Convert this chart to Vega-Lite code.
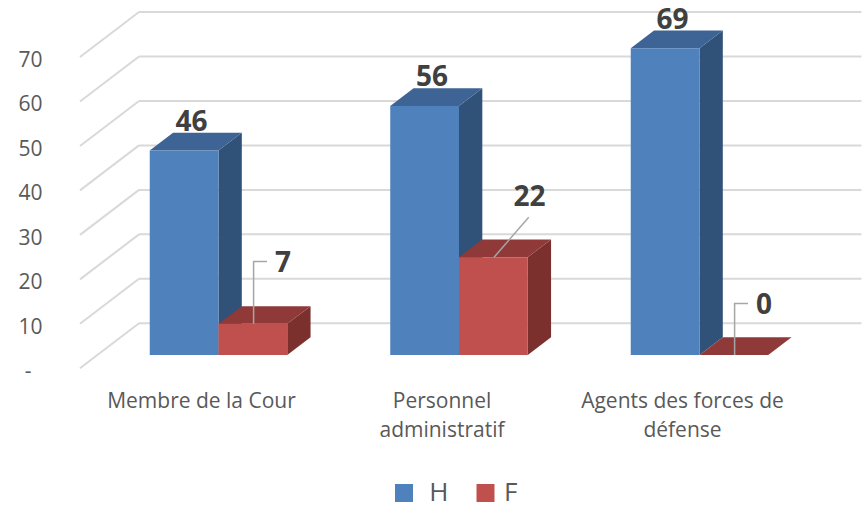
{
"$schema":"https://vega.github.io/schema/vega-lite/v6.json",
"width":865,"height":506,"padding":0,"autosize":{"type":"none"},"background":"white",
"config":{"view":{"stroke":null},"font":"Open Sans"},
"data":{"values":[
{"category":"Membre de la Cour","serie":"H","value":46},
{"category":"Membre de la Cour","serie":"F","value":7},
{"category":"Personnel administratif","serie":"H","value":56},
{"category":"Personnel administratif","serie":"F","value":22},
{"category":"Agents des forces de défense","serie":"H","value":69},
{"category":"Agents des forces de défense","serie":"F","value":0}
]},
"transform":[
{"calculate":"indexof(['Membre de la Cour','Personnel administratif','Agents des forces de défense'],datum.category)","as":"g"},
{"calculate":"datum.serie=='H'?0:1","as":"s"},
{"calculate":"datum.g+(datum.s-1)*0.2859","as":"x0"},
{"calculate":"datum.g+datum.s*0.2859","as":"x1"},
{"calculate":"(datum.x0+datum.x1)/2","as":"xc"},
{"calculate":"datum.category+datum.serie","as":"id"}
],
"layer":[
{"data":{"values":[{"tick":0},{"tick":10},{"tick":20},{"tick":30},{"tick":40},{"tick":50},{"tick":60},{"tick":70}]},
 "transform":[{"calculate":"datum.tick-2.99","as":"yf"},{"calculate":"datum.tick+7.13","as":"yb"}],
 "mark":{"type":"rule","color":"#d9d9d9","strokeWidth":2},
 "encoding":{
  "x":{"datum":-0.5759,"type":"quantitative","scale":{"domain":[-0.90852,2.68815],"nice":false,"zero":false},"axis":null},
  "x2":{"datum":-0.3306},
  "y":{"field":"yf","type":"quantitative","scale":{"domain":[-33.96,79.83],"nice":false,"zero":false},
   "axis":{"title":null,"orient":"left","offset":-42,"domain":false,"ticks":false,"grid":false,"values":[0,10,20,30,40,50,60,70],"labelExpr":"datum.value==0?'-\u00a0\u00a0\u200b':datum.label","labelOffset":16.5,"labelPadding":0,"labelFontSize":21,"labelColor":"#595959","labelFont":"Open Sans","labelOverlap":false}},
  "y2":{"field":"yb"}
 }},
{"data":{"values":[{"tick":0},{"tick":10},{"tick":20},{"tick":30},{"tick":40},{"tick":50},{"tick":60},{"tick":70}]},
 "transform":[{"calculate":"datum.tick+7.13","as":"yb"}],
 "mark":{"type":"rule","color":"#d9d9d9","strokeWidth":2},
 "encoding":{
  "x":{"datum":-0.3306,"type":"quantitative","scale":{"domain":[-0.90852,2.68815],"nice":false,"zero":false},"axis":null},
  "x2":{"datum":2.6736},
  "y":{"field":"yb","type":"quantitative","scale":{"domain":[-33.96,79.83],"nice":false,"zero":false}}
 }},
{"transform":[{"calculate":"[0,1]","as":"k"},{"flatten":["k"]},
  {"calculate":"datum.x1+datum.k*0.0969","as":"xs"},{"calculate":"datum.value+datum.k*3.98","as":"yt"},{"calculate":"datum.k*3.98","as":"yo"}],
 "mark":{"type":"area"},
 "encoding":{
  "x":{"field":"xs","type":"quantitative","scale":{"domain":[-0.90852,2.68815],"nice":false,"zero":false},"axis":null},
  "y":{"field":"yt","type":"quantitative","scale":{"domain":[-33.96,79.83],"nice":false,"zero":false}},
  "y2":{"field":"yo"},
  "detail":{"field":"id"},
  "fill":{"condition":{"test":"datum.serie=='H'","value":"#305178"},"value":"#7B302E"}
 }},
{"transform":[{"calculate":"[0,1]","as":"k"},{"flatten":["k"]},
  {"calculate":"datum.x0+datum.k*0.0969","as":"xa"},{"calculate":"datum.x1+datum.k*0.0969","as":"xb"},{"calculate":"datum.value+datum.k*3.98","as":"yt"}],
 "mark":{"type":"area","orient":"horizontal"},
 "encoding":{
  "y":{"field":"yt","type":"quantitative","scale":{"domain":[-33.96,79.83],"nice":false,"zero":false}},
  "x":{"field":"xa","type":"quantitative","scale":{"domain":[-0.90852,2.68815],"nice":false,"zero":false},"axis":null},
  "x2":{"field":"xb"},
  "detail":{"field":"id"},
  "fill":{"condition":{"test":"datum.serie=='H'","value":"#3D6494"},"value":"#8F3A38"}
 }},
{"mark":{"type":"rect"},
 "encoding":{
  "x":{"field":"x0","type":"quantitative","scale":{"domain":[-0.90852,2.68815],"nice":false,"zero":false},"axis":null},
  "x2":{"field":"x1"},
  "y":{"field":"value","type":"quantitative","scale":{"domain":[-33.96,79.83],"nice":false,"zero":false}},
  "y2":{"datum":0},
  "color":{"field":"serie","type":"nominal","scale":{"domain":["H","F"],"range":["#4F81BD","#C0504D"]},
   "legend":{"title":null,"orient":"none","legendX":391,"legendY":480,"direction":"horizontal","symbolType":"square","symbolSize":324,"symbolStrokeWidth":0,"symbolOpacity":1,"labelFontSize":26,"labelColor":"#595959","labelFont":"Open Sans","labelOffset":5.5,"columnPadding":23.5,"padding":0,"labelExpr":"datum.label=='H'?'\u200b\u00a0H':datum.label"}}
 }},
{"transform":[{"filter":"datum.serie=='F'"},{"calculate":"[0,1,2]","as":"k"},{"flatten":["k"]},
  {"calculate":"datum.value==22?9:(datum.value==7?14:11.6)","as":"up"},
  {"calculate":"datum.xc+0.003+(datum.value==22?(datum.k>=1?0.144:0):(datum.k==2?0.0555:0))","as":"lu"},
  {"calculate":"datum.value+(datum.k>=1?datum.up:0)","as":"lv"}],
 "mark":{"type":"line","color":"#a6a6a6","strokeWidth":1.5},
 "encoding":{
  "x":{"field":"lu","type":"quantitative","scale":{"domain":[-0.90852,2.68815],"nice":false,"zero":false},"axis":null},
  "y":{"field":"lv","type":"quantitative","scale":{"domain":[-33.96,79.83],"nice":false,"zero":false}},
  "detail":{"field":"id"},
  "order":{"field":"k"}
 }},
{"transform":[
  {"calculate":"datum.xc+(datum.serie=='H'?0.031:(datum.value==22?0.15:0.125))","as":"lx"},
  {"calculate":"datum.value+(datum.serie=='H'?6.2:(datum.value==0?10.95:13.35))","as":"ly"}],
 "mark":{"type":"text","fontSize":28,"fontWeight":"bold","font":"Open Sans","color":"#404040","align":"center","baseline":"middle"},
 "encoding":{
  "x":{"field":"lx","type":"quantitative","scale":{"domain":[-0.90852,2.68815],"nice":false,"zero":false},"axis":null},
  "y":{"field":"ly","type":"quantitative","scale":{"domain":[-33.96,79.83],"nice":false,"zero":false}},
  "text":{"field":"value","type":"quantitative"}
 }},
{"transform":[{"filter":"datum.serie=='F'"},
  {"calculate":"datum.g-0.0707","as":"lx"},
  {"calculate":"-8.0","as":"ly"},
  {"calculate":"datum.category=='Personnel administratif'?'Personnel|administratif':(datum.category=='Agents des forces de défense'?'Agents des forces de|défense':datum.category)","as":"lab"}],
 "mark":{"type":"text","fontSize":21,"font":"Open Sans","color":"#595959","align":"center","baseline":"top","lineBreak":"|","lineHeight":29},
 "encoding":{
  "x":{"field":"lx","type":"quantitative","scale":{"domain":[-0.90852,2.68815],"nice":false,"zero":false},"axis":null},
  "y":{"field":"ly","type":"quantitative","scale":{"domain":[-33.96,79.83],"nice":false,"zero":false}},
  "text":{"field":"lab"}
 }}
]
}
